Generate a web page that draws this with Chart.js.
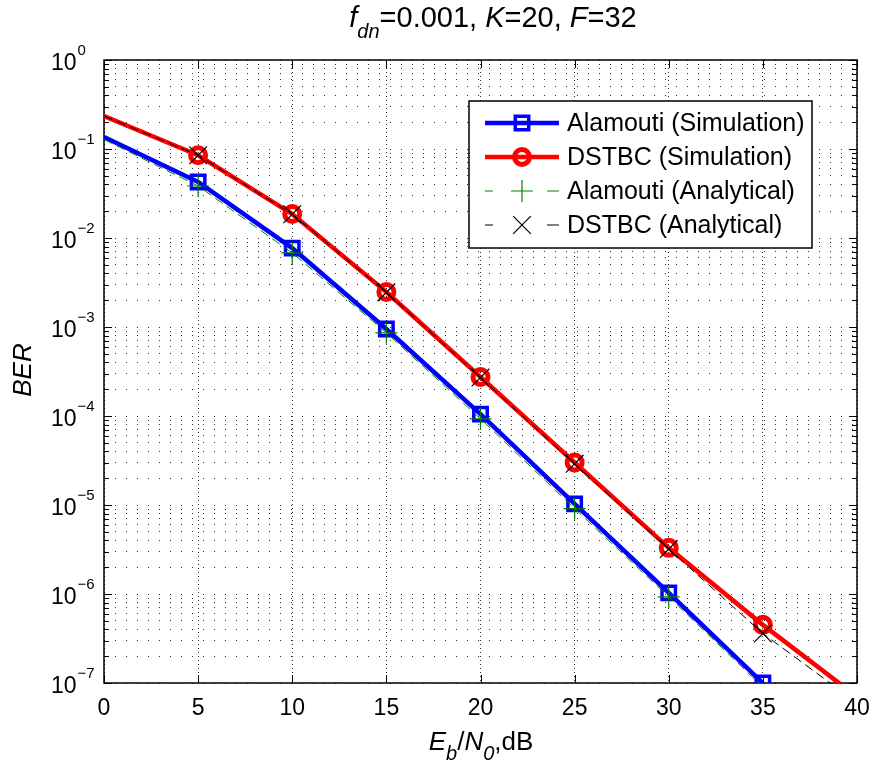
<!DOCTYPE html>
<html>
<head>
<meta charset="utf-8">
<script src="https://cdn.jsdelivr.net/npm/chart.js@4/dist/chart.umd.min.js"></script>
<style>
  html, body { margin: 0; padding: 0; background: #fff; }
</style>
</head>
<body>
<canvas id="ber" width="874" height="763"></canvas>
<script>
// Eb/N0 in dB
const ebn0 = [0, 5, 10, 15, 20, 25, 30, 35, 40];

const alamoutiSim = [0.136, 0.0426, 0.0077, 9.5e-4, 1.05e-4, 1.03e-5, 1.03e-6, 1.0e-7];
const dstbcSim = [0.235, 0.085, 0.0186, 2.47e-3, 2.74e-4, 3.0e-5, 3.3e-6, 4.5e-7, 7e-8];
const alamoutiAna = [0.128, 0.0384, 0.0068, 8.6e-4, 9.3e-5, 9.1e-6, 9.3e-7, 9.0e-8];
const dstbcAna = [0.235, 0.085, 0.0185, 2.45e-3, 2.7e-4, 2.9e-5, 3.2e-6, 3.6e-7, 6e-8];

const xTicks = [0, 5, 10, 15, 20, 25, 30, 35, 40];
const yExponents = [0, -1, -2, -3, -4, -5, -6, -7];

const legendLabels = [
  "Alamouti (Simulation)",
  "DSTBC (Simulation)",
  "Alamouti (Analytical)",
  "DSTBC (Analytical)",
];

const Y_MIN = 1e-7, Y_MAX = 1;
const FONT = '"Liberation Sans", Arial, Helvetica, sans-serif';

function toPoints(vals) {
  return vals.map((v, i) => ({ x: ebn0[i], y: v }));
}

// no markers at 0 dB or below the axis limit
function markerRadius(r) {
  return (ctx) => {
    const p = ctx.raw;
    if (!p || p.x === 0 || p.y < Y_MIN) return 0;
    return r;
  };
}

// full log tick list: 1..9 x each decade
function logTicks() {
  const out = [];
  for (let e = -7; e < 0; e++) {
    for (let m = 1; m <= 9; m++) out.push({ value: m * Math.pow(10, e) });
  }
  out.push({ value: 1 });
  return out;
}

function drawRich(ctx, parts, x, y, align) {
  let w = 0;
  parts.forEach(p => {
    ctx.font = (p.italic ? "italic " : "") + p.size + "px " + FONT;
    p.w = ctx.measureText(p.t).width;
    w += p.w;
  });
  let cx = align === "center" ? x - w / 2 : x;
  ctx.textAlign = "left";
  ctx.textBaseline = "alphabetic";
  parts.forEach(p => {
    ctx.font = (p.italic ? "italic " : "") + p.size + "px " + FONT;
    ctx.fillText(p.t, cx, y + (p.dy || 0));
    cx += p.w;
  });
}

const frame = {
  id: "frame",
  beforeDatasetsDraw(chart) {
    const { ctx, chartArea: a, scales: { x, y } } = chart;
    ctx.save();
    ctx.strokeStyle = "#000";
    ctx.lineWidth = 1.5;
    ctx.strokeRect(a.left, a.top, a.right - a.left, a.bottom - a.top);
    ctx.lineWidth = 1;
    ctx.beginPath();
    xTicks.forEach(v => {
      const px = Math.round(x.getPixelForValue(v)) + 0.5;
      ctx.moveTo(px, a.bottom); ctx.lineTo(px, a.bottom - 8);
      ctx.moveTo(px, a.top); ctx.lineTo(px, a.top + 8);
    });
    logTicks().forEach(t => {
      const py = Math.round(y.getPixelForValue(t.value)) + 0.5;
      const major = Math.abs(Math.log10(t.value) - Math.round(Math.log10(t.value))) < 1e-9;
      const len = major ? 8 : 5;
      ctx.moveTo(a.left, py); ctx.lineTo(a.left + len, py);
      ctx.moveTo(a.right, py); ctx.lineTo(a.right - len, py);
    });
    ctx.stroke();
    ctx.restore();
  },
  afterDraw(chart) {
    const { ctx, scales: { x, y } } = chart;
    ctx.save();
    ctx.fillStyle = "#000";

    // x tick labels
    ctx.font = "23px " + FONT;
    ctx.textAlign = "center";
    ctx.textBaseline = "alphabetic";
    xTicks.forEach(v => ctx.fillText(String(v), x.getPixelForValue(v), 715));

    // y tick labels 10^n
    yExponents.forEach(e => {
      const py = y.getPixelForValue(Math.pow(10, e));
      ctx.font = "23px " + FONT;
      ctx.textAlign = "left";
      ctx.fillText("10", 51, py + 9.5);
      const w = ctx.measureText("10").width;
      ctx.font = "15px " + FONT;
      ctx.fillText(e === 0 ? "0" : "\u2212" + (-e), 51 + w + 1, py - 5);
    });

    // title
    drawRich(ctx, [
      { t: "f", italic: true, size: 29 },
      { t: "dn", italic: true, size: 20, dy: 11 },
      { t: "=0.001, ", size: 29 },
      { t: "K", italic: true, size: 29 },
      { t: "=20, ", size: 29 },
      { t: "F", italic: true, size: 29 },
      { t: "=32", size: 29 },
    ], 493, 27, "center");

    // x axis label
    drawRich(ctx, [
      { t: "E", italic: true, size: 26 },
      { t: "b", italic: true, size: 20, dy: 10 },
      { t: "/", size: 26 },
      { t: "N", italic: true, size: 26 },
      { t: "0", italic: true, size: 20, dy: 10 },
      { t: ",dB", size: 26 },
    ], 481, 750, "center");

    // y axis label
    ctx.save();
    ctx.translate(31, 370);
    ctx.rotate(-Math.PI / 2);
    ctx.font = "italic 26px " + FONT;
    ctx.textAlign = "center";
    ctx.fillText("BER", 0, 0);
    ctx.restore();

    // legend box
    const bx = 469, by = 101, bw = 343, bh = 147;
    ctx.fillStyle = "#fff";
    ctx.fillRect(bx, by, bw, bh);
    ctx.strokeStyle = "#000";
    ctx.lineWidth = 1.5;
    ctx.strokeRect(bx, by, bw, bh);
    legendLabels.forEach((label, row) => {
      const ds = chart.data.datasets[row];
      const ly = 123 + row * 34;
      ctx.save();
      ctx.strokeStyle = ds.borderColor;
      ctx.lineWidth = ds.borderWidth;
      ctx.beginPath();
      if (ds.borderDash) {
        ctx.moveTo(485, ly); ctx.lineTo(493, ly);
        ctx.moveTo(547, ly); ctx.lineTo(559, ly);
      } else {
        ctx.moveTo(485, ly); ctx.lineTo(559, ly);
      }
      ctx.stroke();
      ctx.lineWidth = ds.pointBorderWidth;
      ctx.fillStyle = "rgba(0,0,0,0)";
      Chart.helpers.drawPoint(ctx, {
        pointStyle: ds.pointStyle, radius: ds.legendRadius, rotation: 0,
        borderWidth: ds.pointBorderWidth,
      }, 522, ly);
      ctx.restore();
      ctx.fillStyle = "#000";
      ctx.font = "25px " + FONT;
      ctx.textAlign = "left";
      ctx.textBaseline = "middle";
      ctx.fillText(label, 567, ly + 1);
    });
    ctx.restore();
  }
};

new Chart(document.getElementById("ber"), {
  type: "line",
  data: {
    datasets: [
      {
        label: legendLabels[0],
        data: toPoints(alamoutiSim),
        borderColor: "rgb(0,0,255)",
        borderWidth: 4.5,
        pointStyle: "rect",
        pointRadius: markerRadius(9.5),
        legendRadius: 9.5,
        pointBorderWidth: 3.5,
        pointBorderColor: "rgb(0,0,255)",
        pointBackgroundColor: "rgba(0,0,0,0)",
        order: 4,
      },
      {
        label: legendLabels[1],
        data: toPoints(dstbcSim),
        borderColor: "rgb(255,0,0)",
        borderWidth: 4.5,
        pointStyle: "circle",
        pointRadius: markerRadius(7.5),
        legendRadius: 7.5,
        pointBorderWidth: 5,
        pointBorderColor: "rgb(255,0,0)",
        pointBackgroundColor: "rgba(0,0,0,0)",
        clip: 0,
        order: 3,
      },
      {
        label: legendLabels[2],
        data: toPoints(alamoutiAna),
        borderColor: "rgb(0,128,0)",
        borderWidth: 1,
        borderDash: [9, 5],
        pointStyle: "cross",
        pointRadius: markerRadius(11),
        legendRadius: 11,
        pointBorderWidth: 1.2,
        pointBorderColor: "rgb(0,128,0)",
        pointBackgroundColor: "rgba(0,0,0,0)",
        clip: 0,
        order: 2,
      },
      {
        label: legendLabels[3],
        data: toPoints(dstbcAna),
        borderColor: "#000",
        borderWidth: 1,
        borderDash: [9, 5],
        pointStyle: "crossRot",
        pointRadius: markerRadius(12.5),
        legendRadius: 12.5,
        pointBorderWidth: 1.2,
        pointBorderColor: "#000",
        pointBackgroundColor: "rgba(0,0,0,0)",
        clip: 0,
        order: 1,
      },
    ],
  },
  options: {
    responsive: false,
    animation: false,
    layout: { padding: { left: 104, top: 60, right: 17, bottom: 80 } },
    elements: { line: { tension: 0 }, point: { hoverRadius: 0 } },
    plugins: {
      legend: { display: false },
      tooltip: { enabled: false },
    },
    events: [],
    scales: {
      x: {
        type: "linear",
        min: 0,
        max: 40,
        ticks: { display: false },
        afterBuildTicks: (s) => { s.ticks = xTicks.map(v => ({ value: v })); },
        grid: { color: "rgba(0,0,0,0.8)", lineWidth: 1, drawTicks: false },
        border: { display: false, dash: [1, 3] },
      },
      y: {
        type: "logarithmic",
        min: Y_MIN,
        max: Y_MAX,
        ticks: { display: false },
        afterBuildTicks: (s) => { s.ticks = logTicks(); },
        grid: { color: "rgba(0,0,0,0.8)", lineWidth: 1, drawTicks: false },
        border: { display: false, dash: [1, 10] },
      },
    },
  },
  plugins: [frame],
});
</script>
</body>
</html>
